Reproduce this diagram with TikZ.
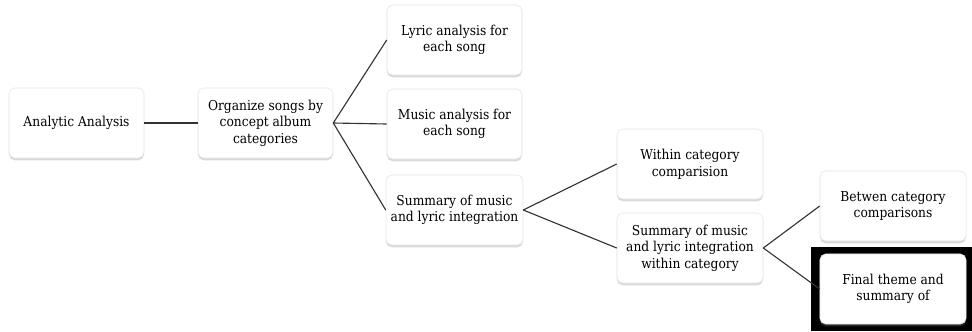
\documentclass[tikz,border=0pt]{standalone}
\usepackage{tikz}
\usepackage{fontspec}
\setmainfont{DejaVu Serif Condensed}
\usetikzlibrary{positioning,shadows,fit,backgrounds}

\begin{document}
\begin{tikzpicture}[x=0.025cm,y=-0.025cm,
  box/.style={fill=white,draw=black!10,rounded corners=4pt,minimum width=3.375cm,minimum height=1.75cm,align=center,font={\fontsize{9.7}{11.8}\selectfont},
    drop shadow={opacity=0.3,shadow xshift=0pt,shadow yshift=-1.6pt}},
  wbox/.style={box,minimum width=3.65cm},
  link/.style={draw=black!80,line width=0.8pt}]
  \useasboundingbox (0,0) rectangle (972,331);
  \node[box] (ana) at (76.5,123) {Analytic Analysis};
  \node[box] (org) at (265.5,123) {Organize songs by\\concept album\\categories};
  \node[box] (lyr) at (454.5,40) {Lyric analysis for\\each song};
  \node[box] (mus) at (454.5,124) {Music analysis for\\each song};
  \node[box] (sum) at (454.5,210) {Summary of music\\and lyric integration};
  \node[wbox] (win) at (690,164) {Within category\\comparision};
  \node[wbox] (swc) at (690,248) {Summary of music\\and lyric integration\\within category};
  \node[wbox] (btw) at (893,206) {Betwen category\\comparisons};
  \node[wbox] (fin) at (893,289) {Final theme and\\summary of};
  % highlight frame behind the last box
  \begin{scope}[on background layer]
    \node[fill=black,fit=(fin),inner xsep=6.5pt,inner ysep=5pt] (sel) {};
  \end{scope}
  \draw[link] (ana) -- (org);
  \draw[link] (org.east) -- (lyr.west);
  \draw[link] (org.east) -- (mus.west);
  \draw[link] (org.east) -- (sum.west);
  \draw[link] (sum.east) -- (win.west);
  \draw[link] (sum.east) -- (swc.west);
  \draw[link] (swc.east) -- (btw.west);
  \draw[link] (swc.east) -- (fin.west);
\end{tikzpicture}
\end{document}
